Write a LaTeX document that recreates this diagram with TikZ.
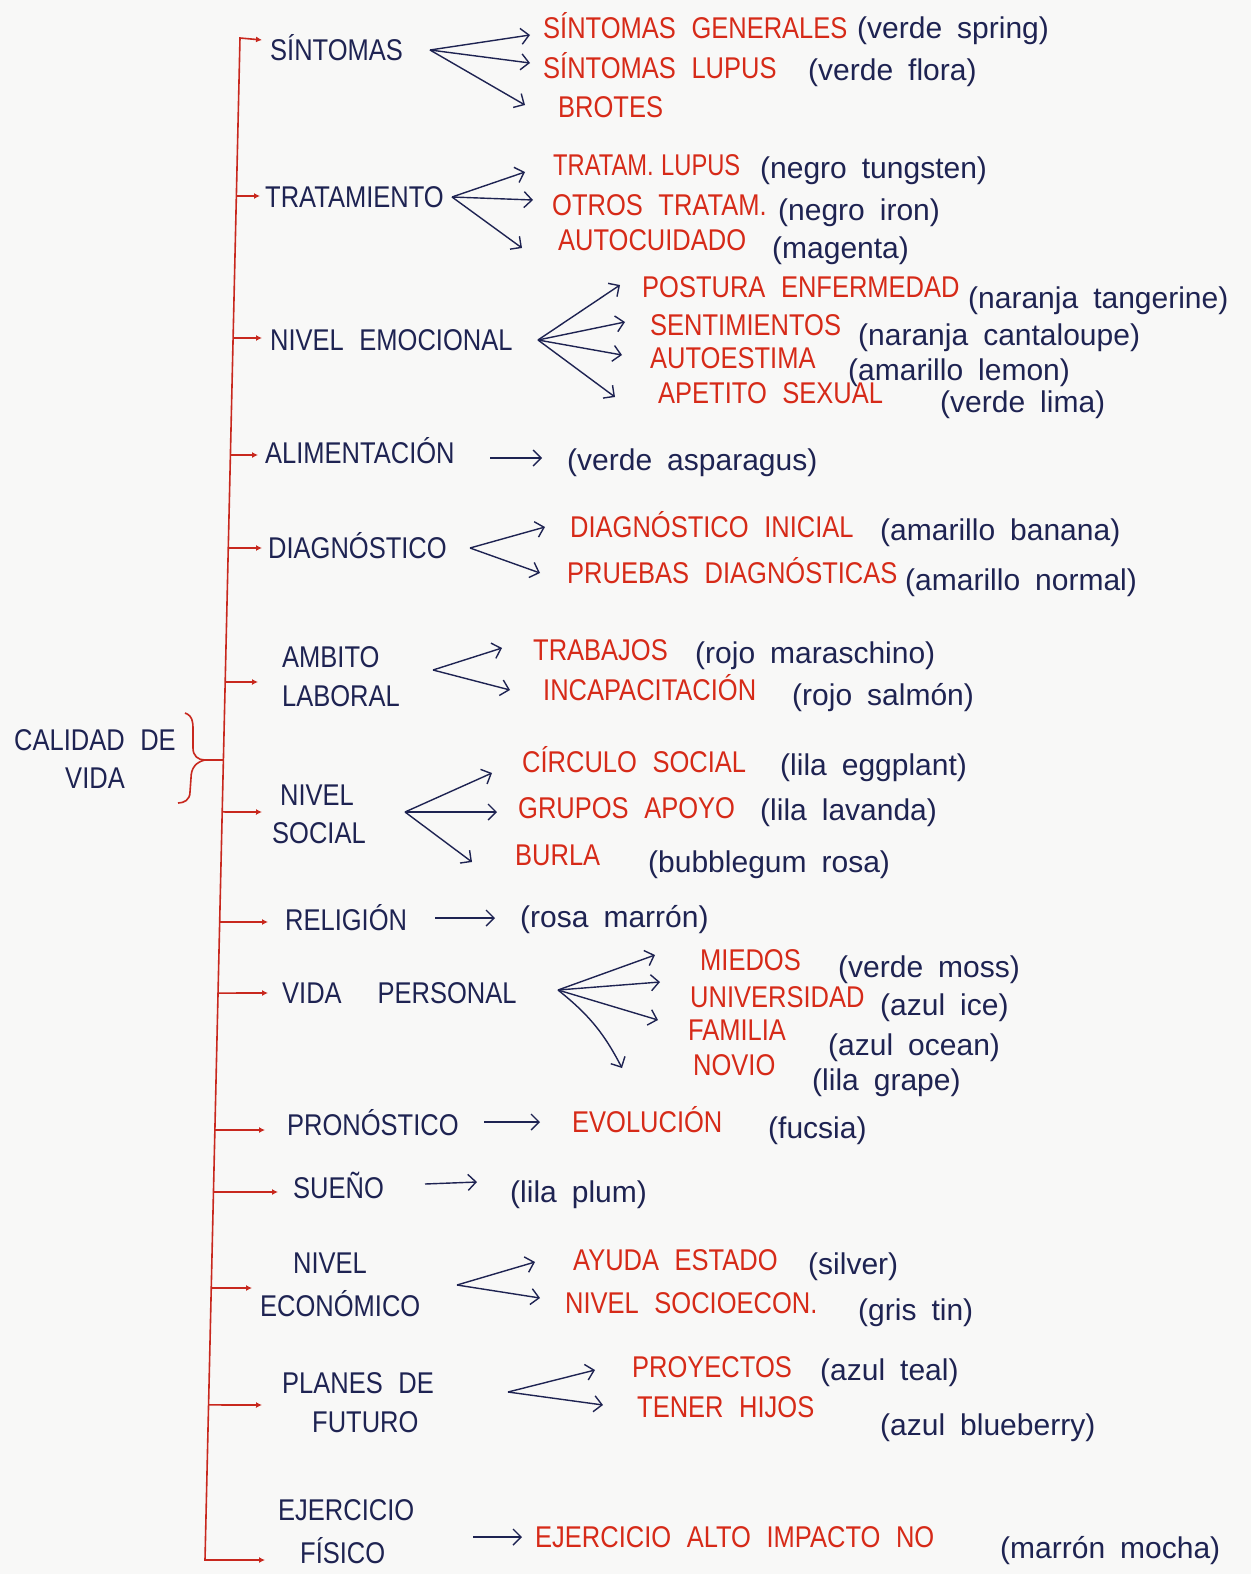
\documentclass[tikz,border=0pt]{standalone}
\usepackage{fontspec}
\setmainfont[FakeStretch=0.85,WordSpace=2.2]{Liberation Sans}
\newfontfamily\notefam[WordSpace=1.8]{Liberation Sans}
\usetikzlibrary{arrows.meta,calc}
\definecolor{navy}{HTML}{1E2352}
\definecolor{redtxt}{HTML}{D62A18}
\definecolor{redline}{HTML}{C8281E}
\definecolor{paper}{HTML}{F8F8F7}
\newcommand\hwf{\fontsize{30}{38}\selectfont}
\newcommand\ntf{\notefam\fontsize{30}{38}\selectfont}
\tikzset{
 catx/.style={anchor=west,inner sep=0pt,text height=21pt,text depth=0pt,text=navy,font=\hwf},
 itemx/.style={catx,text=redtxt},
 notex/.style={catx,text=navy,font=\ntf},
 fanx/.style={draw=navy,line width=1.4pt,-{Straight Barb[length=8pt,width=16pt]}},
 brx/.style={draw=redline,line width=1.6pt,-{Latex[length=6pt,width=6pt]}},
 linex/.style={draw=redline,line width=1.6pt},
}
\begin{document}
\begin{tikzpicture}[x=1pt,y=-1pt]
\fill[paper] (0,0) rectangle (1251,1574);
\useasboundingbox (0,0) rectangle (1251,1574);

% root
\node[text=navy,font=\hwf,align=center,inner sep=0pt] (root) at (95,759) {CALIDAD DE\\VIDA};

% categories
\node[catx] (c1) at (270,50) {SÍNTOMAS};
\node[catx] (c2) at (265,197) {TRATAMIENTO};
\node[catx] (c3) at (270,340) {NIVEL EMOCIONAL};
\node[catx] (c4) at (265,453) {ALIMENTACIÓN};
\node[catx] (c5) at (268,548) {DIAGNÓSTICO};
\node[catx] (c6a) at (282,657) {AMBITO};
\node[catx] (c6b) at (282,696) {LABORAL};
\node[catx] (c7a) at (280,795) {NIVEL};
\node[catx] (c7b) at (272,833) {SOCIAL};
\node[catx] (c8) at (285,920) {RELIGIÓN};
\node[catx] (c9) at (282,993) {VIDA\hspace{36pt}PERSONAL};
\node[catx] (c10) at (287,1125) {PRONÓSTICO};
\node[catx] (c11) at (293,1188) {SUEÑO};
\node[catx] (c12a) at (293,1263) {NIVEL};
\node[catx] (c12b) at (260,1306) {ECONÓMICO};
\node[catx] (c13a) at (282,1383) {PLANES DE};
\node[catx] (c13b) at (312,1422) {FUTURO};
\node[catx] (c14a) at (278,1510) {EJERCICIO};
\node[catx] (c14b) at (300,1553) {FÍSICO};

% main red line
\coordinate (ltop) at (240,38);
\coordinate (lbot) at (205,1560);
\draw[linex,{Latex[length=6pt,width=6pt]}-{Latex[length=6pt,width=6pt]}]
  ($(c1.west)+(-8,-10)$) -- (ltop) -- (lbot) -- ($(c14b.west)+(-35,7)$);

\coordinate (b2) at ($(ltop)!0.1038!(lbot)$);
\coordinate (b3) at ($(ltop)!0.1971!(lbot)$);
\coordinate (b4) at ($(ltop)!0.2740!(lbot)$);
\coordinate (b5) at ($(ltop)!0.3351!(lbot)$);
\coordinate (b6) at ($(ltop)!0.4231!(lbot)$);
\coordinate (bR) at ($(ltop)!0.4744!(lbot)$);
\coordinate (b7) at ($(ltop)!0.5085!(lbot)$);
\coordinate (b8) at ($(ltop)!0.5808!(lbot)$);
\coordinate (b9) at ($(ltop)!0.6275!(lbot)$);
\coordinate (b10) at ($(ltop)!0.7175!(lbot)$);
\coordinate (b11) at ($(ltop)!0.7582!(lbot)$);
\coordinate (b12) at ($(ltop)!0.8213!(lbot)$);
\coordinate (b13) at ($(ltop)!0.8981!(lbot)$);

\draw[brx] (b2) -- ($(c2.west)+(-5,-1)$);
\draw[brx] (b3) -- ($(c3.west)+(-8,-2)$);
\draw[brx] (b4) -- ($(c4.west)+(-7,2)$);
\draw[brx] (b5) -- ($(c5.west)+(-6,0)$);
\draw[brx] (b6) -- ($(c6b.west)+(-24,-14)$);
\draw[brx] (b7) -- ($(c7a.west)+(-18,17)$);
\draw[brx] (b8) -- ($(c8.west)+(-17,2)$);
\draw[brx] (b9) -- ($(c9.west)+(-14,0)$);
\draw[brx] (b10) -- ($(c10.west)+(-22,5)$);
\draw[brx] (b11) -- ($(c11.west)+(-15,4)$);
\draw[brx] (b12) -- ($(c12b.west)+(-8,-18)$);
\draw[brx] (b13) -- ($(c13b.west)+(-50,-17)$);

% brace
\coordinate (brtip) at (205,760);
\draw[linex] (185,713) .. controls (194,716) and (193,725) .. (193,735) -- (193,748)
  .. controls (193,756) and (198,760) .. (brtip);
\draw[linex] (brtip) .. controls (196,762) and (191,768) .. (191,778) -- (190,792)
  .. controls (190,800) and (184,803) .. (178,803);
\draw[linex] (brtip) -- (bR);

% SINTOMAS
\node[itemx] (s1) at (543,28) {SÍNTOMAS GENERALES};
\node[notex] (s1n) at (857,28) {(verde spring)};
\node[itemx] (s2) at (543,68) {SÍNTOMAS LUPUS};
\node[notex] (s2n) at (808,70) {(verde flora)};
\node[itemx] (s3) at (558,107) {BROTES};
\coordinate (F1) at (430,50);
\draw[fanx] (F1) -- ($(s1.west)+(-13,7)$);
\draw[fanx] (F1) -- ($(s2.west)+(-13,-5)$);
\draw[fanx] (F1) -- ($(s3.west)+(-33,-2)$);

% TRATAMIENTO
\node[itemx] (t1) at (553,165) {\scalebox{0.93}[1]{TRATAM.\hspace{8pt}LUPUS}};
\node[notex] (t1n) at (760,168) {(negro tungsten)};
\node[itemx] (t2) at (552,205) {OTROS TRATAM.};
\node[notex] (t2n) at (778,210) {(negro iron)};
\node[itemx] (t3) at (558,240) {AUTOCUIDADO};
\node[notex] (t3n) at (772,248) {(magenta)};
\coordinate (F2) at (452,197);
\draw[fanx] (F2) -- ($(t1.west)+(-28,7)$);
\draw[fanx] (F2) -- ($(t2.west)+(-19,-5)$);
\draw[fanx] (F2) -- ($(t3.west)+(-36,8)$);

% NIVEL EMOCIONAL
\node[itemx] (e1) at (642,287) {POSTURA ENFERMEDAD};
\node[notex] (e1n) at (968,298) {(naranja tangerine)};
\node[itemx] (e2) at (650,325) {SENTIMIENTOS};
\node[notex] (e2n) at (858,335) {(naranja cantaloupe)};
\node[itemx] (e3) at (650,358) {AUTOESTIMA};
\node[notex] (e3n) at (848,370) {(amarillo lemon)};
\node[itemx] (e4) at (658,393) {APETITO SEXUAL};
\node[notex] (e4n) at (940,402) {(verde lima)};
\coordinate (F3) at (538,340);
\draw[fanx] (F3) -- ($(e1.west)+(-22,-2)$);
\draw[fanx] (F3) -- ($(e2.west)+(-25,-3)$);
\draw[fanx] (F3) -- ($(e3.west)+(-28,-3)$);
\draw[fanx] (F3) -- ($(e4.west)+(-43,4)$);

% ALIMENTACION
\node[notex] (a1) at (567,460) {(verde asparagus)};
\coordinate (F4) at (490,458);
\draw[fanx] (F4) -- ($(a1.west)+(-25,-2)$);

% DIAGNOSTICO
\node[itemx] (d1) at (570,527) {DIAGNÓSTICO INICIAL};
\node[notex] (d1n) at (880,530) {(amarillo banana)};
\node[itemx] (d2) at (567,573) {PRUEBAS DIAGNÓSTICAS};
\node[notex] (d2n) at (905,580) {(amarillo normal)};
\coordinate (F5) at (470,548);
\draw[fanx] (F5) -- ($(d1.west)+(-25,0)$);
\draw[fanx] (F5) -- ($(d2.west)+(-27,0)$);

% AMBITO LABORAL
\node[itemx] (l1) at (533,650) {TRABAJOS};
\node[notex] (l1n) at (695,653) {(rojo maraschino)};
\node[itemx] (l2) at (543,690) {INCAPACITACIÓN};
\node[notex] (l2n) at (792,695) {(rojo salmón)};
\coordinate (F6) at (433,670);
\draw[fanx] (F6) -- ($(l1.west)+(-31,-2)$);
\draw[fanx] (F6) -- ($(l2.west)+(-33,0)$);

% NIVEL SOCIAL
\node[itemx] (n1) at (522,762) {CÍRCULO SOCIAL};
\node[notex] (n1n) at (780,765) {(lila eggplant)};
\node[itemx] (n2) at (518,808) {GRUPOS APOYO};
\node[notex] (n2n) at (760,810) {(lila lavanda)};
\node[itemx] (n3) at (515,855) {BURLA};
\node[notex] (n3n) at (648,862) {(bubblegum rosa)};
\coordinate (F7) at (405,812);
\draw[fanx] (F7) -- ($(n1.west)+(-30,11)$);
\draw[fanx] (F7) -- ($(n2.west)+(-21,4)$);
\draw[fanx] (F7) -- ($(n3.west)+(-43,7)$);

% RELIGION
\node[notex] (r1) at (520,917) {(rosa marrón)};
\coordinate (F8) at (435,918);
\draw[fanx] (F8) -- ($(r1.west)+(-25,1)$);

% VIDA PERSONAL
\node[itemx] (v1) at (700,960) {MIEDOS};
\node[notex] (v1n) at (838,967) {(verde moss)};
\node[itemx] (v2) at (690,997) {UNIVERSIDAD};
\node[notex] (v2n) at (880,1005) {(azul ice)};
\node[itemx] (v3) at (688,1030) {FAMILIA};
\node[notex] (v3n) at (828,1045) {(azul ocean)};
\node[itemx] (v4) at (693,1065) {NOVIO};
\node[notex] (v4n) at (812,1080) {(lila grape)};
\coordinate (F9) at (558,990);
\draw[fanx] (F9) -- ($(v1.west)+(-45,-5)$);
\draw[fanx] (F9) -- ($(v2.west)+(-30,-15)$);
\draw[fanx] (F9) -- ($(v3.west)+(-30,-10)$);
\draw[fanx] (F9) to[bend left=12] ($(v4.west)+(-71,3)$);

% PRONOSTICO
\node[itemx] (o1) at (572,1122) {EVOLUCIÓN};
\node[notex] (o1n) at (768,1128) {(fucsia)};
\coordinate (F10) at (484,1122);
\draw[fanx] (F10) -- ($(o1.west)+(-32,0)$);

% SUENO
\node[notex] (z1) at (510,1192) {(lila plum)};
\coordinate (F11) at (425,1184);
\draw[fanx] (F11) -- ($(z1.west)+(-33,-10)$);

% NIVEL ECONOMICO
\node[itemx] (m1) at (573,1260) {AYUDA ESTADO};
\node[notex] (m1n) at (808,1264) {(silver)};
\node[itemx] (m2) at (565,1303) {NIVEL SOCIOECON.};
\node[notex] (m2n) at (858,1310) {(gris tin)};
\coordinate (F12) at (457,1285);
\draw[fanx] (F12) -- ($(m1.west)+(-38,2)$);
\draw[fanx] (F12) -- ($(m2.west)+(-25,-5)$);

% PLANES DE FUTURO
\node[itemx] (f1) at (632,1367) {PROYECTOS};
\node[notex] (f1n) at (820,1370) {(azul teal)};
\node[itemx] (f2) at (637,1407) {TENER HIJOS};
\node[notex] (f2n) at (880,1425) {(azul blueberry)};
\coordinate (F13) at (508,1392);
\draw[fanx] (F13) -- ($(f1.west)+(-37,3)$);
\draw[fanx] (F13) -- ($(f2.west)+(-34,-2)$);

% EJERCICIO FISICO
\node[itemx] (x1) at (535,1537) {EJERCICIO ALTO IMPACTO NO};
\node[notex] (x1n) at (1000,1548) {(marrón mocha)};
\coordinate (F14) at (473,1537);
\draw[fanx] (F14) -- ($(x1.west)+(-13,0)$);
\end{tikzpicture}
\end{document}
